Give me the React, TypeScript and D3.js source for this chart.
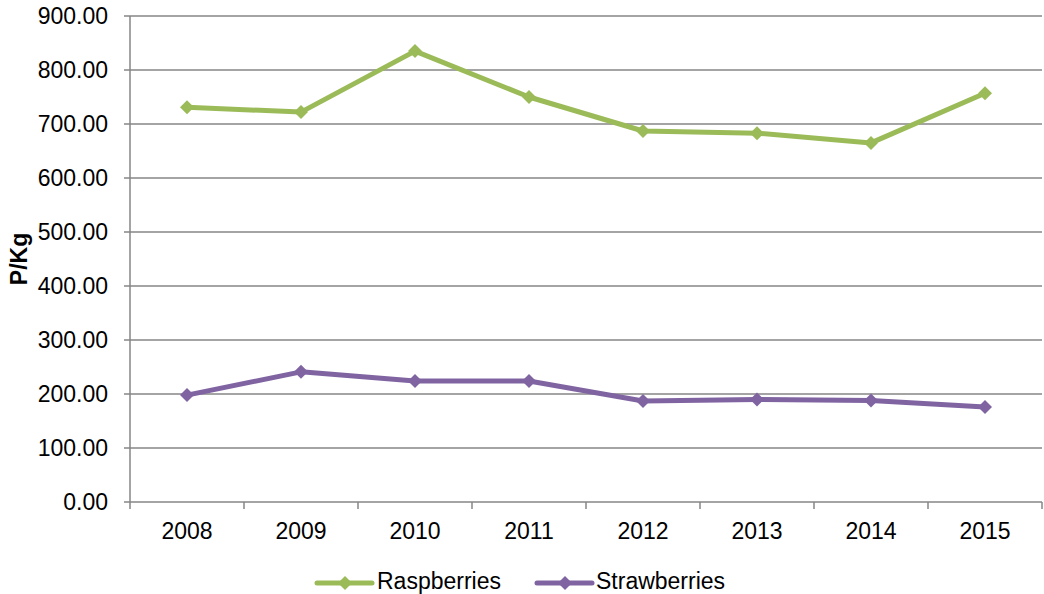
import React from "react";
import * as d3 from "d3";

const years = ["2008", "2009", "2010", "2011", "2012", "2013", "2014", "2015"];
const raspberries = [731, 722, 835, 750, 687, 683, 665, 757];
const strawberries = [198, 241, 224, 224, 187, 190, 188, 176];
const yTicks = [0, 100, 200, 300, 400, 500, 600, 700, 800, 900];

const series = [
  { name: "Raspberries", values: raspberries, color: "#9BBB59" },
  { name: "Strawberries", values: strawberries, color: "#8064A2" },
];

const W = 1044, H = 594;
const left = 130, right = 1042, top = 16, bottom = 502;
const font = "Liberation Sans, Arial, sans-serif";
const fs = 23;

export default function App() {
  const x = d3.scaleBand().domain(years).range([left, right]);
  const y = d3.scaleLinear().domain([0, 900]).range([bottom, top]);
  const line = d3.line<number>()
    .x((_, i) => (x(years[i]) as number) + x.bandwidth() / 2)
    .y((d) => y(d));
  const diamond = (cx: number, cy: number, r: number) =>
    `M${cx},${cy - r}L${cx + r},${cy}L${cx},${cy + r}L${cx - r},${cy}Z`;

  const legend = [
    { ...series[0], x0: 317, tx: 377 },
    { ...series[1], x0: 537, tx: 596 },
  ];

  return (
    <svg width={W} height={H} style={{ position: "absolute", left: 0, top: 0 }}>
      <rect width={W} height={H} fill="#fff" />
      {yTicks.map((t) => (
        <g key={t}>
          <line x1={left - 6} x2={right} y1={y(t)} y2={y(t)} stroke="#868686" strokeWidth={1.5} />
          <text x={108} y={y(t)} dy="0.35em" textAnchor="end" fontFamily={font} fontSize={fs} fill="#000">
            {t.toFixed(2)}
          </text>
        </g>
      ))}
      <line x1={left} x2={left} y1={top} y2={bottom} stroke="#868686" strokeWidth={1.5} />
      {years.concat(["end"]).map((yr, i) => {
        const xx = left + i * x.step();
        return <line key={yr} x1={xx} x2={xx} y1={bottom} y2={bottom + 7} stroke="#868686" strokeWidth={1.5} />;
      })}
      {years.map((yr) => (
        <text key={yr} x={(x(yr) as number) + x.bandwidth() / 2} y={539} textAnchor="middle" fontFamily={font} fontSize={fs} fill="#000">
          {yr}
        </text>
      ))}
      <text transform={`translate(27,${(top + bottom) / 2}) rotate(-90)`} textAnchor="middle" fontFamily={font} fontSize={fs} fontWeight="bold" fill="#000">
        P/Kg
      </text>
      {series.map((s) => (
        <g key={s.name}>
          <path d={line(s.values) || ""} fill="none" stroke={s.color} strokeWidth={5} strokeLinejoin="round" strokeLinecap="round" />
          {s.values.map((v, i) => (
            <path key={i} d={diamond((x(years[i]) as number) + x.bandwidth() / 2, y(v), 7)} fill={s.color} />
          ))}
        </g>
      ))}
      {legend.map((l) => (
        <g key={l.name}>
          <line x1={l.x0} x2={l.x0 + 55} y1={583} y2={583} stroke={l.color} strokeWidth={5} strokeLinecap="round" />
          <path d={diamond(l.x0 + 28, 583, 7)} fill={l.color} />
          <text x={l.tx} y={589} fontFamily={font} fontSize={fs} fill="#000">
            {l.name}
          </text>
        </g>
      ))}
    </svg>
  );
}
